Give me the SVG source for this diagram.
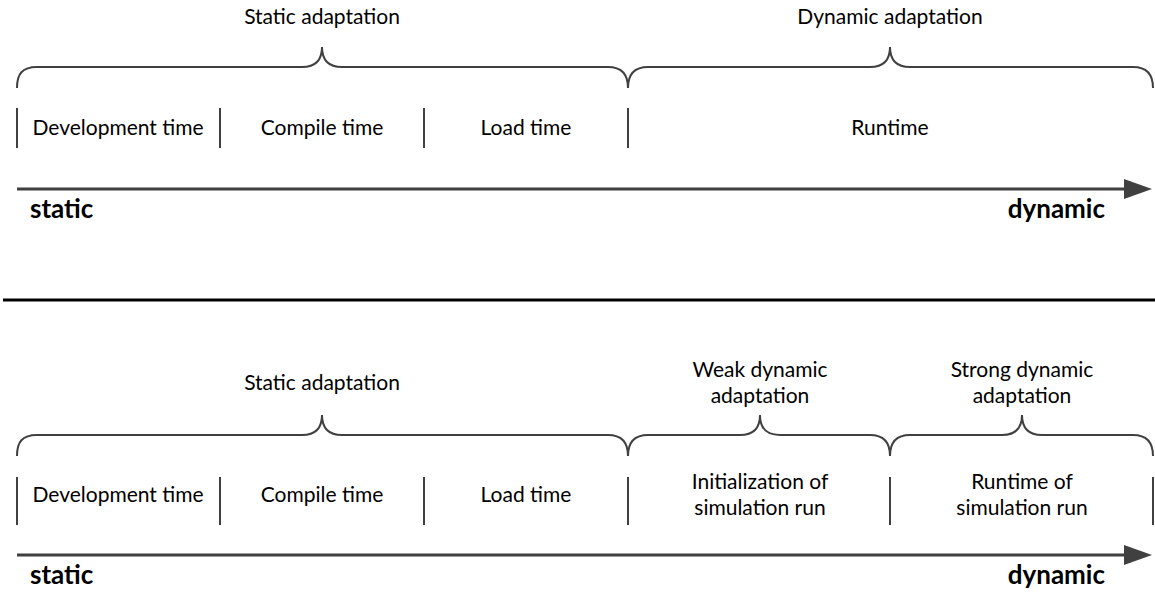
<svg xmlns="http://www.w3.org/2000/svg" width="1155" height="592" viewBox="0 0 1155 592">
  <defs>
    <marker id="arrowhead" markerUnits="userSpaceOnUse" markerWidth="30" markerHeight="22" refX="0" refY="11" orient="auto">
      <path d="M0,1 L28,11 L0,21 Z" fill="#404040"/>
    </marker>
  </defs>
  <style>
    .lbl { font-family: Lato, "Open Sans", sans-serif; font-size: 21px; fill: #000; text-anchor: middle; }
    .end { font-family: Lato, "Open Sans", sans-serif; font-size: 26px; font-weight: bold; fill: #000; }
    .brace { fill: none; stroke: #404040; stroke-width: 2; }
    .tick { stroke: #404040; stroke-width: 2; }
    .axis { stroke: #404040; stroke-width: 3; fill: none; }
  </style>
  <rect width="1155" height="592" fill="#fff"/>

  <!-- upper timeline -->
  <g id="top-static-brace">
    <path class="brace" d="M17,88 C17,74 22,67 37,67 H302 C315,67 322,60 322,47 C322,60 329,67 342,67 H608 C621,67 628,74 628,88"/>
    <text class="lbl" x="322" y="24">Static adaptation</text>
  </g>
  <g id="top-dynamic-brace">
    <path class="brace" d="M628,88 C628,74 635,67 648,67 H870 C883,67 890,60 890,47 C890,60 897,67 910,67 H1133 C1146,67 1153,74 1153,88"/>
    <text class="lbl" x="890" y="24">Dynamic adaptation</text>
  </g>
  <g id="top-phases">
    <line class="tick" x1="17" y1="108" x2="17" y2="148"/>
    <line class="tick" x1="220" y1="108" x2="220" y2="148"/>
    <line class="tick" x1="424" y1="108" x2="424" y2="148"/>
    <line class="tick" x1="628" y1="108" x2="628" y2="148"/>
    <text class="lbl" x="118" y="135">Development time</text>
    <text class="lbl" x="322" y="135">Compile time</text>
    <text class="lbl" x="526" y="135">Load time</text>
    <text class="lbl" x="890" y="135">Runtime</text>
  </g>
  <g id="top-axis">
    <line class="axis" x1="17" y1="189" x2="1124" y2="189" marker-end="url(#arrowhead)"/>
    <text class="end" x="30" y="218">static</text>
    <text class="end" x="1105" y="218" text-anchor="end">dynamic</text>
  </g>

  <!-- divider -->
  <line id="divider" x1="3" y1="300" x2="1155" y2="300" stroke="#000" stroke-width="3"/>

  <!-- lower timeline -->
  <g id="bottom-static-brace">
    <path class="brace" d="M17,456 C17,442 22,435 37,435 H302 C315,435 322,428 322,415 C322,428 329,435 342,435 H608 C621,435 628,442 628,456"/>
    <text class="lbl" x="322" y="390">Static adaptation</text>
  </g>
  <g id="bottom-weak-brace">
    <path class="brace" d="M628,456 C628,442 635,435 648,435 H740 C753,435 760,428 760,415 C760,428 767,435 780,435 H870 C883,435 890,442 890,456"/>
    <text class="lbl" x="760" y="377">Weak dynamic</text>
    <text class="lbl" x="760" y="403">adaptation</text>
  </g>
  <g id="bottom-strong-brace">
    <path class="brace" d="M890,456 C890,442 897,435 910,435 H1002 C1015,435 1022,428 1022,415 C1022,428 1029,435 1042,435 H1133 C1146,435 1153,442 1153,456"/>
    <text class="lbl" x="1022" y="377">Strong dynamic</text>
    <text class="lbl" x="1022" y="403">adaptation</text>
  </g>
  <g id="bottom-phases">
    <line class="tick" x1="17" y1="477" x2="17" y2="525"/>
    <line class="tick" x1="220" y1="477" x2="220" y2="525"/>
    <line class="tick" x1="424" y1="477" x2="424" y2="525"/>
    <line class="tick" x1="628" y1="477" x2="628" y2="525"/>
    <line class="tick" x1="890" y1="477" x2="890" y2="525"/>
    <line class="tick" x1="1153" y1="477" x2="1153" y2="525"/>
    <text class="lbl" x="118" y="502">Development time</text>
    <text class="lbl" x="322" y="502">Compile time</text>
    <text class="lbl" x="526" y="502">Load time</text>
    <text class="lbl" x="760" y="489">Initialization of</text>
    <text class="lbl" x="760" y="515">simulation run</text>
    <text class="lbl" x="1022" y="489">Runtime of</text>
    <text class="lbl" x="1022" y="515">simulation run</text>
  </g>
  <g id="bottom-axis">
    <line class="axis" x1="17" y1="555" x2="1124" y2="555" marker-end="url(#arrowhead)"/>
    <text class="end" x="30" y="584">static</text>
    <text class="end" x="1105" y="584" text-anchor="end">dynamic</text>
  </g>
</svg>
